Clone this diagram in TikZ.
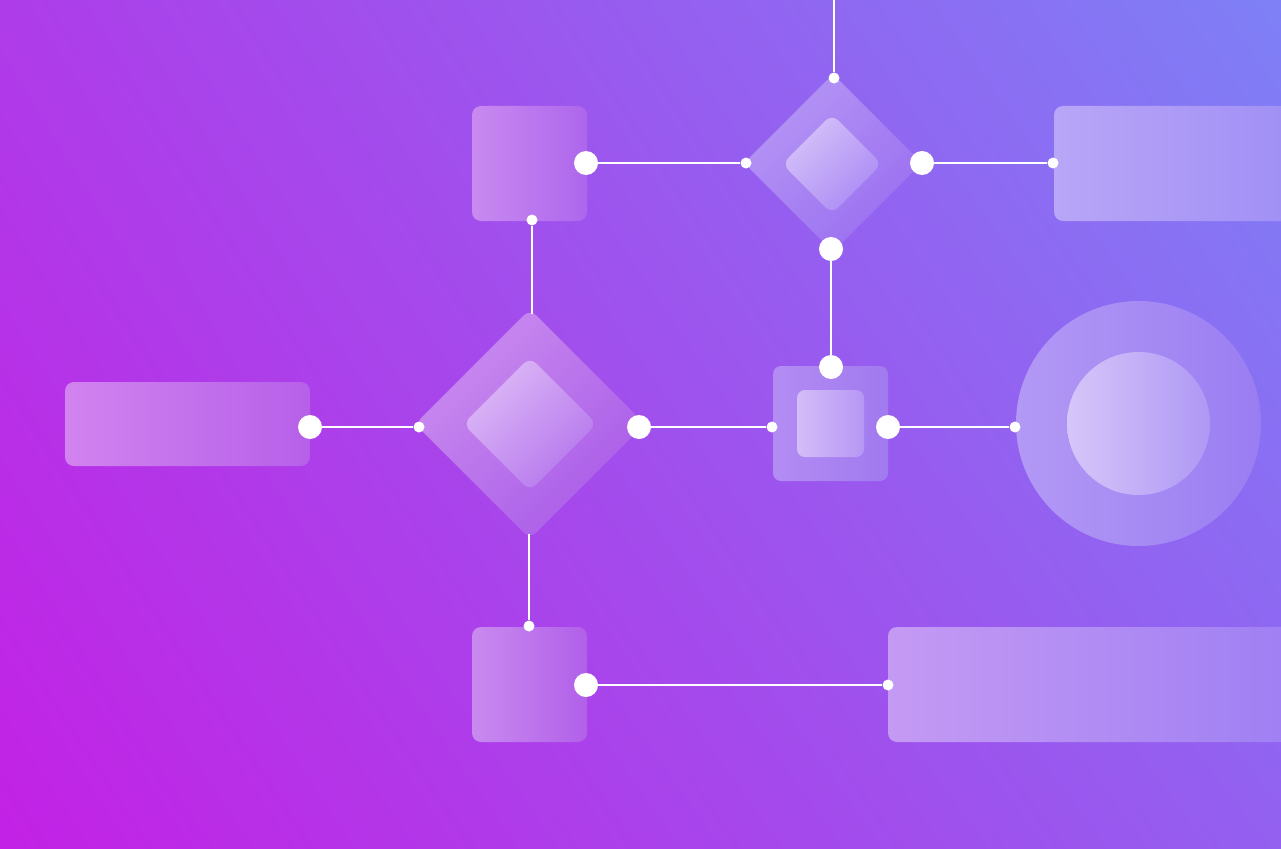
\documentclass[tikz,border=0pt]{standalone}
\usetikzlibrary{shapes.geometric,shadings}
\definecolor{bgUL}{HTML}{AE3CE9}
\definecolor{bgUR}{HTML}{7E80F6}
\definecolor{bgLL}{HTML}{C321E5}
\definecolor{bgLR}{HTML}{9360F0}
\begin{document}
\begin{tikzpicture}[x=1pt,y=-1pt,
    panel/.style={rectangle,rounded corners=9pt,inner sep=0pt},
    gem/.style={diamond,aspect=1,rounded corners=9pt,inner sep=0pt},
    disc/.style={circle,inner sep=0pt},
    bigdot/.style={circle,fill=white,inner sep=0pt,minimum size=24pt},
    smalldot/.style={circle,fill=white,inner sep=0pt,minimum size=11pt},
    wire/.style={draw=white,line width=1.8pt}]
  \useasboundingbox (0,0) rectangle (1281,848);
  \shade[upper left=bgUL,upper right=bgUR,lower left=bgLL,lower right=bgLR]
    (0,0) rectangle (1281,848);
  \clip (0,0) rectangle (1281,848);
  % panels
  \node[panel,minimum width=115pt,minimum height=115pt,
    left color={rgb,255:red,201;green,138;blue,240},right color={rgb,255:red,173;green,102;blue,236}] (box1) at (529.5,163.5) {};
  \node[panel,minimum width=256pt,minimum height=115pt,
    left color={rgb,255:red,184;green,166;blue,247},right color={rgb,255:red,159;green,142;blue,245}] (box2) at (1182,163.5) {};
  \node[panel,minimum width=245pt,minimum height=84pt,
    left color={rgb,255:red,210;green,131;blue,239},right color={rgb,255:red,182;green,96;blue,233}] (box3) at (187.5,424) {};
  \node[panel,minimum width=115pt,minimum height=115pt,
    left color={rgb,255:red,201;green,138;blue,239},right color={rgb,255:red,177;green,96;blue,233}] (box4) at (529.5,684.5) {};
  \node[panel,minimum width=422pt,minimum height=115pt,
    left color={rgb,255:red,196;green,154;blue,243},right color={rgb,255:red,157;green,126;blue,243}] (box5) at (1099,684.5) {};
  % square with inner square
  \node[panel,rounded corners=8pt,minimum size=115pt,
    left color={rgb,255:red,179;green,140;blue,243},right color={rgb,255:red,160;green,122;blue,239}] (sq) at (830.5,423.5) {};
  \node[panel,rounded corners=8pt,minimum size=67pt,
    left color={rgb,255:red,212;green,189;blue,248},right color={rgb,255:red,182;green,151;blue,244}] (sqin) at (830.5,423.5) {};
  % diamonds
  \node[gem,minimum width=178pt,minimum height=178pt,
    top color={rgb,255:red,181;green,150;blue,245},bottom color={rgb,255:red,154;green,110;blue,240},shading angle=45] (dia1) at (833,163) {};
  \node[gem,minimum width=100pt,minimum height=100pt,
    top color={rgb,255:red,214;green,194;blue,249},bottom color={rgb,255:red,170;green,138;blue,244},shading angle=45] (dia1in) at (832,164) {};
  \node[gem,minimum width=230pt,minimum height=230pt,
    top color={rgb,255:red,202;green,140;blue,239},bottom color={rgb,255:red,169;green,91;blue,232},shading angle=45] (dia2) at (530,424) {};
  \node[gem,minimum width=134pt,minimum height=134pt,
    top color={rgb,255:red,221;green,185;blue,246},bottom color={rgb,255:red,181;green,118;blue,237},shading angle=45] (dia2in) at (530,424) {};
  % circle
  \node[disc,minimum size=245pt,
    left color={rgb,255:red,179;green,153;blue,245},right color={rgb,255:red,154;green,125;blue,242}] (ring) at (1138.5,423.5) {};
  \node[disc,minimum size=143pt,
    left color={rgb,255:red,214;green,198;blue,249},right color={rgb,255:red,174;green,152;blue,244}] (ringin) at (1138.5,423.5) {};
  % dots
  \coordinate (top) at (834,0);
  \node[smalldot] (p1) at (834,78) {};
  \node[bigdot] (p2) at (586,163) {};
  \node[smalldot] (p3) at (746,163) {};
  \node[bigdot] (p4) at (922,163) {};
  \node[smalldot] (p5) at (1053,163) {};
  \node[bigdot] (p6) at (831,249) {};
  \node[bigdot] (p7) at (831,367) {};
  \node[smalldot] (p8) at (532,220) {};
  \node[bigdot] (p9) at (310,427) {};
  \node[smalldot] (p10) at (419,427) {};
  \node[bigdot] (p11) at (639,427) {};
  \node[smalldot] (p12) at (772,427) {};
  \node[bigdot] (p13) at (888,427) {};
  \node[smalldot] (p14) at (1015,427) {};
  \node[smalldot] (p15) at (529,626) {};
  \node[bigdot] (p16) at (586,685) {};
  \node[smalldot] (p17) at (888,685) {};
  \begin{scope}[wire]
    \draw (top) -- (p1);
    \draw (p2) -- (p3);
    \draw (p4) -- (p5);
    \draw (p6) -- (p7);
    \draw (p8) -- ([yshift=-5pt]p8 |- dia2.north);
    \draw (p9) -- (p10);
    \draw (p11) -- (p12);
    \draw (p13) -- (p14);
    \draw ([yshift=5pt]p15 |- dia2.south) -- (p15);
    \draw (p16) -- (p17);
  \end{scope}
\end{tikzpicture}
\end{document}
